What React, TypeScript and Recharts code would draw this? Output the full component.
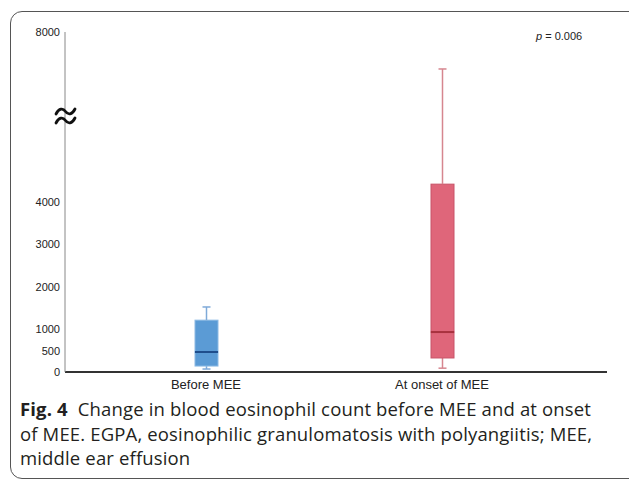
import { Bar, ComposedChart, XAxis, YAxis } from "recharts";

const groups = ["Before MEE", "At onset of MEE"];
const minimums = [70, 90];
const lowerQuartiles = [140, 330];
const medians = [470, 940];
const upperQuartiles = [1220, 4420];
const maximums = [1530, 7130];
const yTicks = [0, 500, 1000, 2000, 3000, 4000, 8000];

// colours per group: fill, edge, median, whisker
const palette = [
  { fill: "#5B9BD5", edge: "#8DBAE4", median: "#1F4E8C", whisker: "#7FAAD8" },
  { fill: "#DF667A", edge: "#C85368", median: "#A8323F", whisker: "#D6868F" },
];

const boxData = groups.map((name, i) => ({
  name,
  base: minimums[i],
  lowWhisker: lowerQuartiles[i] - minimums[i],
  lowBox: medians[i] - lowerQuartiles[i],
  highBox: upperQuartiles[i] - medians[i],
  highWhisker: maximums[i] - upperQuartiles[i],
}));

const Whisker = (top: boolean) => (props: any) => {
  const { x, y, width, height, index } = props;
  const c = palette[index];
  const cx = x + width / 2;
  const capY = top ? y : y + height;
  return (
    <g>
      <line x1={cx} x2={cx} y1={y} y2={y + height} stroke={c.whisker} strokeWidth={1.5} />
      <line x1={cx - 4} x2={cx + 4} y1={capY} y2={capY} stroke={c.whisker} strokeWidth={1.5} />
    </g>
  );
};

// upper half of the box also draws the median line on its bottom edge
const BoxPart = (upper: boolean) => (props: any) => {
  const { x, y, width, height, index } = props;
  const c = palette[index];
  return (
    <g>
      <rect x={x} y={y} width={width} height={height} fill={c.fill} stroke={c.edge} strokeWidth={1} />
      {upper && (
        <line x1={x} x2={x + width} y1={y + height} y2={y + height} stroke={c.median} strokeWidth={2} />
      )}
    </g>
  );
};

function App() {
  return (
    <div
      style={{
        position: "absolute",
        left: 0,
        top: 0,
        width: 629,
        height: 481,
        overflow: "hidden",
        background: "#fff",
      }}
    >
      <div
        style={{
          position: "absolute",
          left: 10,
          top: 11,
          width: 640,
          height: 466,
          border: "1px solid #555",
          borderRadius: 12,
        }}
      />
      <ComposedChart
        width={629}
        height={400}
        data={boxData}
        margin={{ top: 32, right: 22, bottom: 8, left: 5 }}
        barSize={23}
        style={{ position: "absolute", left: 0, top: 0 }}
      >
        <XAxis
          dataKey="name"
          padding={{ left: 23, right: 47 }}
          height={20}
          tickLine={false}
          axisLine={{ stroke: "#333", strokeWidth: 2 }}
          tick={{ fill: "#222", fontSize: 13, fontFamily: "Liberation Sans, Arial" }}
        />
        <YAxis
          width={60}
          domain={[0, 8000]}
          ticks={yTicks}
          interval={0}
          tickLine={false}
          tickSize={0}
          tickMargin={5}
          axisLine={{ stroke: "#888" }}
          tick={{ fill: "#222", fontSize: 11, fontFamily: "Liberation Sans, Arial" }}
        />
        <Bar dataKey="base" stackId="box" fill="none" isAnimationActive={false} />
        <Bar dataKey="lowWhisker" stackId="box" shape={Whisker(false)} isAnimationActive={false} />
        <Bar dataKey="lowBox" stackId="box" shape={BoxPart(false)} isAnimationActive={false} />
        <Bar dataKey="highBox" stackId="box" shape={BoxPart(true)} isAnimationActive={false} />
        <Bar dataKey="highWhisker" stackId="box" shape={Whisker(true)} isAnimationActive={false} />
      </ComposedChart>
      <svg
        width={40}
        height={40}
        style={{ position: "absolute", left: 45, top: 95 }}
      >
        <g fill="none" stroke="#111" strokeWidth={2.8} strokeLinecap="round">
          <path d="M11,19 C14,13 18,13 20.5,16.5 C23,20 27,20 30,14" />
          <path d="M11,28 C14,22 18,22 20.5,25.5 C23,29 27,29 30,23" />
        </g>
      </svg>
      <div
        style={{
          position: "absolute",
          left: 536,
          top: 30,
          fontFamily: "Liberation Sans, Arial",
          fontSize: 11,
          color: "#222",
        }}
      >
        <i>p</i> = 0.006
      </div>
      <div
        style={{
          position: "absolute",
          left: 20,
          top: 397,
          width: 610,
          fontFamily: "Open Sans",
          fontSize: 18.5,
          letterSpacing: 0.15,
          lineHeight: "24.5px",
          color: "#231F20",
          whiteSpace: "nowrap",
        }}
      >
        <b>Fig. 4</b>&nbsp; Change in blood eosinophil count before MEE and at onset
        <br />
        of MEE. EGPA, eosinophilic granulomatosis with polyangiitis; MEE,
        <br />
        middle ear effusion
      </div>
    </div>
  );
}

export default App;
